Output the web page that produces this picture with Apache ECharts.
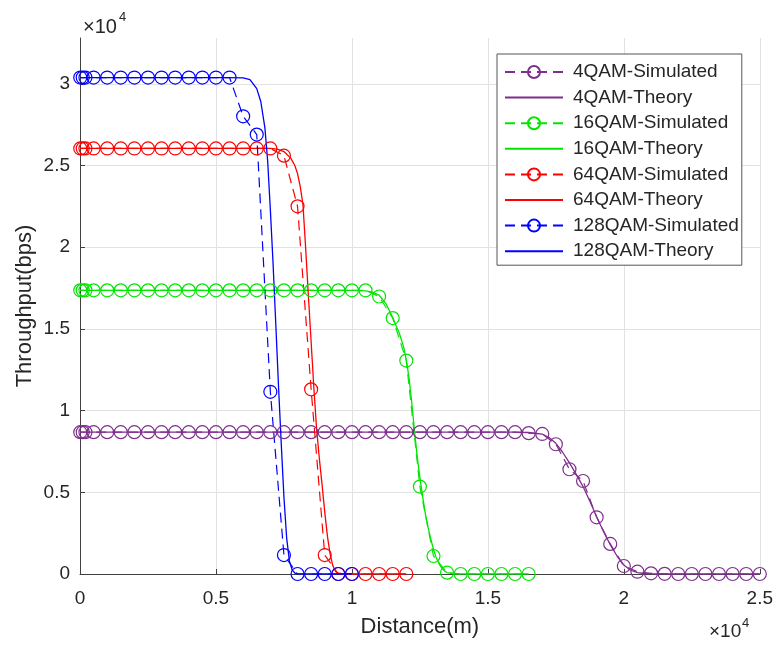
<!DOCTYPE html>
<html>
<head>
<meta charset="utf-8">
<script src="https://cdn.jsdelivr.net/npm/echarts@6/dist/echarts.min.js"></script>
<style>
  html, body { margin: 0; padding: 0; background: #fff; }
  #chart { width: 776px; height: 645px; }
</style>
</head>
<body>
<div id="chart"></div>
<script>
// simulated distances (m)
const simDistance = [10, 100, 200,
  500, 1000, 1500, 2000, 2500, 3000, 3500, 4000, 4500, 5000,
  5500, 6000, 6500, 7000, 7500, 8000, 8500, 9000, 9500, 10000,
  10500, 11000, 11500, 12000, 12500, 13000, 13500, 14000, 14500, 15000,
  15500, 16000, 16500, 17000, 17500, 18000, 18500, 19000, 19500, 20000,
  20500, 21000, 21500, 22000, 22500, 23000, 23500, 24000, 24500, 25000]

// simulated throughput (bps)
const sim4 = [8680, 8680, 8680, 8680, 8680, 8680, 8680, 8680, 8680, 8680,
  8680, 8680, 8680, 8680, 8680, 8680, 8680, 8680, 8680, 8680,
  8680, 8680, 8680, 8680, 8680, 8680, 8680, 8680, 8680, 8680,
  8680, 8680, 8680, 8680, 8680,
  8620, 8570, 7940, 6410, 5690, 3470, 1840, 490, 140, 40, 10,
  0, 0, 0, 0, 0, 0, 0]
const sim16 = [17360, 17360, 17360, 17360, 17360, 17360, 17360, 17360, 17360, 17360,
  17360, 17360, 17360, 17360, 17360, 17360, 17360, 17360, 17360, 17360,
  17360, 17360, 17360, 17360,
  16980, 15660, 13060, 5350, 1100, 80,
  0, 0, 0, 0, 0, 0]
const sim64 = [26040, 26040, 26040, 26040, 26040, 26040, 26040, 26040, 26040, 26040,
  26040, 26040, 26040, 26040, 26040, 26040, 26040,
  25600, 22500, 11300, 1160,
  0, 0, 0, 0, 0, 0]
const sim128 = [30380, 30380, 30380, 30380, 30380, 30380, 30380, 30380, 30380, 30380,
  30380, 30380, 30380, 30380,
  28010, 26890, 11150, 1160,
  0, 0, 0, 0, 0]

// theory curves
const thDist4 = [0, 16000, 16500, 17000, 17250, 17500, 17750, 18000, 18250, 18500, 18750,
  19000, 19250, 19500, 19750, 20000, 20250, 20500, 20750, 21000, 21500, 25000]
const th4 = [8680, 8680, 8660, 8560, 8350, 8000, 7450, 6800, 6100, 5350, 4450,
  3500, 2600, 1800, 1100, 550, 230, 90, 30, 10, 0, 0]

const thDist16 = [0, 10000, 10500, 10750, 11000, 11250, 11500, 11750, 11900, 12000, 12100,
  12200, 12300, 12400, 12500, 12600, 12700, 12800, 12900, 13000, 13100, 13200,
  13300, 13400, 13500, 13750, 14000, 16500]
const th16 = [17360, 17360, 17330, 17250, 17060, 16550, 15700, 14700, 13900, 13100, 12000,
  10500, 8800, 7200, 5900, 4750, 3700, 2850, 2150, 1500, 1000, 640,
  380, 190, 90, 10, 0, 0]

const thDist64 = [0, 7000, 7250, 7500, 7750, 7900, 8000, 8100, 8200, 8300, 8400,
  8500, 8600, 8700, 8800, 8900, 9000, 9100, 9200, 9300, 9400, 9500, 9700, 10000, 12000]
const th64 = [26040, 26040, 26000, 25850, 25450, 25000, 24500, 23700, 22600, 19900, 17000,
  14200, 11400, 8900, 7100, 5500, 3800, 2300, 1200, 500, 160, 50, 5, 0, 0]

const thDist128 = [0, 5500, 6000, 6250, 6500, 6650, 6800, 6900, 7000, 7100, 7200,
  7300, 7400, 7500, 7600, 7700, 7800, 7900, 8000, 8500, 10000]
const th128 = [30380, 30380, 30360, 30250, 29700, 28900, 27300, 25300, 22300, 19000, 15300,
  11500, 8000, 4700, 2200, 800, 250, 60, 10, 0, 0]

const font = 'Liberation Sans, Arial, sans-serif'
const textColor = '#262626'

function simSeries (name, color, values) {
  return {
    name: name,
    type: 'line',
    data: values.map((v, i) => [simDistance[i], v]),
    symbol: 'circle',
    symbolSize: 13,
    showAllSymbol: true,
    itemStyle: { color: 'rgba(255,255,255,0)', borderColor: color, borderWidth: 1.2 },
    lineStyle: { color: color, width: 1.2, type: [10, 6] },
    emphasis: { disabled: true }
  }
}

function theorySeries (name, color, dist, values) {
  return {
    name: name,
    type: 'line',
    data: values.map((v, i) => [dist[i], v]),
    symbol: 'none',
    // transparent so the legend shows only the line
    itemStyle: { color: 'rgba(255,255,255,0)' },
    lineStyle: { color: color, width: 1.3 },
    emphasis: { disabled: true }
  }
}

const chart = echarts.init(document.getElementById('chart'))
const option = {
  animation: false,
  backgroundColor: '#fff',
  textStyle: { fontFamily: font },
  grid: { left: 80, right: 16, top: 38, bottom: 71, containLabel: false },
  legend: {
    orient: 'vertical',
    left: 497,
    top: 54,
    padding: [8, 3, 4, 7],
    itemWidth: 58,
    itemHeight: 15,
    itemGap: 5.6,
    backgroundColor: '#fff',
    borderColor: '#555',
    borderWidth: 1,
    borderRadius: 0,
    textStyle: { fontSize: 19, color: textColor, fontFamily: font, lineHeight: 20, padding: [0, 0, 0, 5] },
    data: ['4QAM-Simulated', '4QAM-Theory', '16QAM-Simulated', '16QAM-Theory',
      '64QAM-Simulated', '64QAM-Theory', '128QAM-Simulated', '128QAM-Theory']
  },
  xAxis: {
    type: 'value',
    min: 0,
    max: 25000,
    interval: 5000,
    name: 'Distance(m)',
    nameLocation: 'middle',
    nameGap: 42,
    nameTextStyle: { fontSize: 22, color: textColor, fontFamily: font },
    axisLine: { show: true, lineStyle: { color: '#404040', width: 1 } },
    axisTick: { show: true, inside: true, length: 5, lineStyle: { color: '#404040' } },
    axisLabel: {
      fontSize: 19, color: textColor, margin: 15, fontFamily: font,
      formatter: v => String(v / 10000)
    },
    splitLine: { show: true, lineStyle: { color: '#e2e2e2', width: 1 } }
  },
  yAxis: {
    type: 'value',
    min: 0,
    max: 32800,
    interval: 5000,
    name: 'Throughput(bps)',
    nameLocation: 'middle',
    nameGap: 44,
    nameMoveOverlap: false,
    nameRotate: 90,
    nameTextStyle: { fontSize: 22, color: textColor, fontFamily: font },
    axisLine: { show: true, lineStyle: { color: '#404040', width: 1 } },
    axisTick: { show: true, inside: true, length: 5, lineStyle: { color: '#404040' } },
    axisLabel: {
      fontSize: 19, color: textColor, margin: 10, fontFamily: font, showMaxLabel: false,
      formatter: v => String(v / 10000)
    },
    splitLine: { show: true, showMaxLine: false, lineStyle: { color: '#e2e2e2', width: 1 } }
  },
  graphic: [
    { type: 'text', left: 83, top: 17, style: { text: '×10', fontSize: 20, fill: textColor, fontFamily: font } },
    { type: 'text', left: 119, top: 11, style: { text: '4', fontSize: 13, fill: textColor, fontFamily: font } },
    { type: 'text', left: 709, top: 622, style: { text: '×10', fontSize: 19, fill: textColor, fontFamily: font } },
    { type: 'text', left: 742, top: 617, style: { text: '4', fontSize: 13, fill: textColor, fontFamily: font } }
  ],
  series: [
    simSeries('4QAM-Simulated', '#7E2F8E', sim4),
    theorySeries('4QAM-Theory', '#7E2F8E', thDist4, th4),
    simSeries('16QAM-Simulated', '#00e600', sim16),
    theorySeries('16QAM-Theory', '#00e600', thDist16, th16),
    simSeries('64QAM-Simulated', '#ff0000', sim64),
    theorySeries('64QAM-Theory', '#ff0000', thDist64, th64),
    simSeries('128QAM-Simulated', '#0000ff', sim128),
    theorySeries('128QAM-Theory', '#0000ff', thDist128, th128)
  ]
}
chart.setOption(option)
window.addEventListener('resize', () => chart.resize())
</script>
</body>
</html>
